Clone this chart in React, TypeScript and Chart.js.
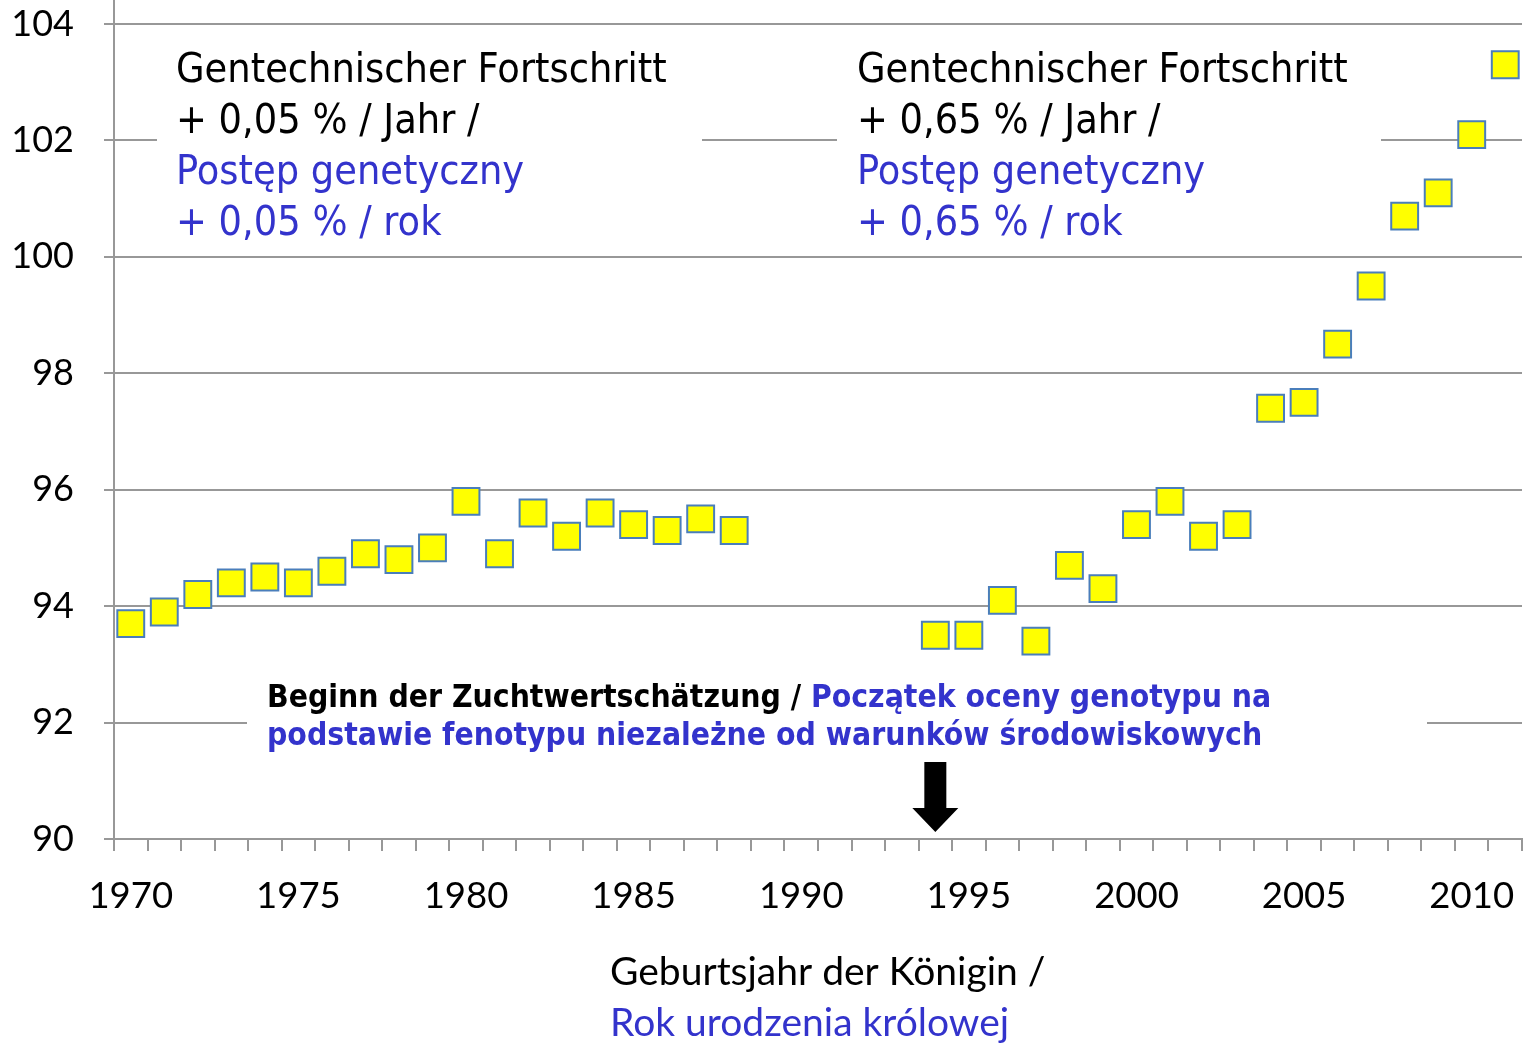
import React, { useEffect, useRef } from "react";
import { Chart, registerables } from "chart.js";

Chart.register(...registerables);

const years: string[] = [];
for (let y = 1970; y <= 2011; y++) years.push(String(y));

const values: (number | null)[] = [
  93.7, 93.9, 94.2, 94.4, 94.5, 94.4, 94.6, 94.9, 94.8, 95.0,
  95.8, 94.9, 95.6, 95.2, 95.6, 95.4, 95.3, 95.5, 95.3,
  null, null, null, null, null,
  93.5, 93.5, 94.1, 93.4, 94.7, 94.3, 95.4, 95.8, 95.2, 95.4,
  97.4, 97.5, 98.5, 99.5, 100.7, 101.1, 102.1, 103.3,
];

const yTicks = [90, 92, 94, 96, 98, 100, 102, 104];
const labeledYears = ["1970", "1975", "1980", "1985", "1990", "1995", "2000", "2005", "2010"];

const leftNoteDe = ["Gentechnischer Fortschritt", "+ 0,05 % / Jahr /"];
const leftNotePl = ["Postęp genetyczny", "+ 0,05 % / rok"];
const rightNoteDe = ["Gentechnischer Fortschritt", "+ 0,65 % / Jahr /"];
const rightNotePl = ["Postęp genetyczny", "+ 0,65 % / rok"];
const bottomNoteDe = "Beginn der Zuchtwertschätzung / ";
const bottomNotePl1 = "Początek oceny genotypu na";
const bottomNotePl2 = "podstawie fenotypu niezależne od warunków środowiskowych";
const xTitleDe = "Geburtsjahr der Königin /";
const xTitlePl = "Rok urodzenia królowej";
const arrowYear = "1994";

const BLUE = "#3333cc";
const NOTE_FONT = '41px "DejaVu Sans Condensed", "DejaVu Sans", sans-serif';
const BOLD_FONT = 'bold 31.6px "DejaVu Sans Condensed", "DejaVu Sans", sans-serif';
const TITLE_FONT = '39px Lato, sans-serif';

const annotations = {
  id: "annotations",
  beforeDatasetsDraw(chart: any) {
    const ctx = chart.ctx as CanvasRenderingContext2D;
    ctx.save();
    ctx.fillStyle = "#ffffff";
    ctx.fillRect(157, 38, 545, 214);
    ctx.fillRect(837, 38, 544, 214);
    ctx.fillRect(247, 670, 1180, 88);
    ctx.textBaseline = "alphabetic";
    ctx.textAlign = "left";
    const drawNote = (x: number, de: string[], pl: string[]) => {
      ctx.font = NOTE_FONT;
      ctx.fillStyle = "#000000";
      ctx.fillText(de[0], x, 82);
      ctx.fillText(de[1], x, 133);
      ctx.fillStyle = BLUE;
      ctx.fillText(pl[0], x, 184);
      ctx.fillText(pl[1], x, 235);
    };
    drawNote(176, leftNoteDe, leftNotePl);
    drawNote(857, rightNoteDe, rightNotePl);
    ctx.font = BOLD_FONT;
    ctx.fillStyle = "#000000";
    ctx.fillText(bottomNoteDe, 267, 707);
    const w = ctx.measureText(bottomNoteDe).width;
    ctx.fillStyle = BLUE;
    ctx.fillText(bottomNotePl1, 267 + w, 707);
    ctx.fillText(bottomNotePl2, 267, 745);
    const ax = chart.scales.x.getPixelForValue(years.indexOf(arrowYear));
    ctx.fillStyle = "#000000";
    ctx.beginPath();
    ctx.moveTo(ax - 11, 762);
    ctx.lineTo(ax + 11, 762);
    ctx.lineTo(ax + 11, 808);
    ctx.lineTo(ax + 23, 808);
    ctx.lineTo(ax, 832);
    ctx.lineTo(ax - 23, 808);
    ctx.lineTo(ax - 11, 808);
    ctx.closePath();
    ctx.fill();
    ctx.restore();
  },
  afterDraw(chart: any) {
    const ctx = chart.ctx as CanvasRenderingContext2D;
    const a = chart.chartArea;
    ctx.save();
    ctx.strokeStyle = "#989898";
    ctx.lineWidth = 2;
    ctx.beginPath();
    ctx.moveTo(a.left, 0);
    ctx.lineTo(a.left, a.top);
    ctx.stroke();
    ctx.font = TITLE_FONT;
    ctx.textAlign = "left";
    ctx.textBaseline = "alphabetic";
    ctx.fillStyle = "#000000";
    ctx.fillText(xTitleDe, 610, 985);
    ctx.fillStyle = BLUE;
    ctx.fillText(xTitlePl, 610, 1036);
    ctx.restore();
  },
};

export default function App() {
  const ref = useRef<HTMLCanvasElement>(null);
  useEffect(() => {
    if (!ref.current) return;
    const chart = new Chart(ref.current, {
      type: "line",
      data: {
        labels: years,
        datasets: [
          {
            data: values,
            showLine: false,
            pointStyle: "rect",
            pointRadius: 19,
            pointBackgroundColor: "#ffff00",
            pointBorderColor: "#4a7ebb",
            pointBorderWidth: 2,
            spanGaps: false,
          },
        ],
      },
      options: {
        animation: false,
        responsive: false,
        maintainAspectRatio: false,
        events: [],
        layout: { autoPadding: false, padding: { left: 0, right: 2, top: 24, bottom: 0 } },
        plugins: { legend: { display: false }, tooltip: { enabled: false } },
        scales: {
          x: {
            type: "category",
            offset: true,
            grid: {
              offset: true,
              drawOnChartArea: false,
              drawTicks: true,
              tickLength: 12,
              color: "#989898",
              lineWidth: 2,
            },
            border: { color: "#989898", width: 2 },
            ticks: {
              autoSkip: false,
              maxRotation: 0,
              padding: 23,
              color: "#000000",
              font: { family: "Lato", size: 36.5 },
              callback: (_v: any, i: number) => (labeledYears.includes(years[i]) ? years[i] : ""),
            },
            afterFit: (s: any) => {
              s.height = 204;
              s.paddingLeft = 0;
              s.paddingRight = 0;
            },
          },
          y: {
            min: 90,
            max: 104,
            afterBuildTicks: (s: any) => {
              s.ticks = yTicks.map((v) => ({ value: v }));
            },
            grid: {
              color: "#989898",
              lineWidth: 2,
              tickLength: 10,
            },
            border: { color: "#989898", width: 2 },
            ticks: {
              padding: 30,
              color: "#000000",
              font: { family: "Lato", size: 36 },
            },
            afterFit: (s: any) => {
              s.width = 114;
              s.paddingTop = 0;
              s.paddingBottom = 0;
            },
          },
        },
      },
      plugins: [annotations],
    });
    return () => chart.destroy();
  }, []);
  return (
    <div style={{ position: "fixed", left: 0, top: 0, width: 1524, height: 1043, background: "#fff" }}>
      <canvas ref={ref} width={1524} height={1043} style={{ width: 1524, height: 1043 }} />
    </div>
  );
}
